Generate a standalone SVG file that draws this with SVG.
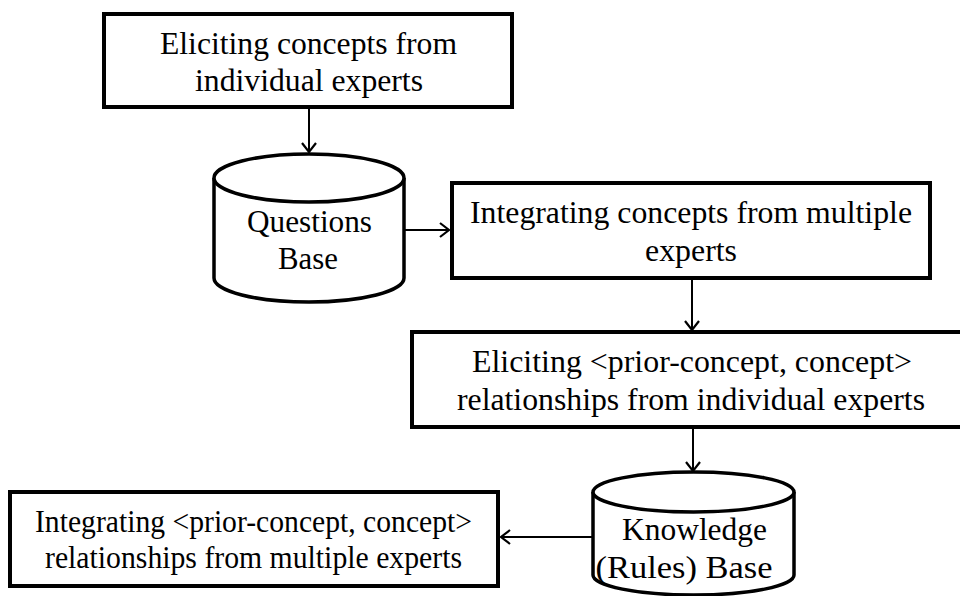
<svg xmlns="http://www.w3.org/2000/svg" width="960" height="596" viewBox="0 0 960 596">
<defs>
<style>
.box{fill:#fff;stroke:#000;stroke-width:4}
.cyl{fill:#fff;stroke:#000;stroke-width:3.5}
.t{font-family:"Liberation Serif","Times New Roman",serif;font-size:31px;fill:#000;text-anchor:middle}
.c{fill:none;stroke:#000;stroke-width:2}
</style>
<marker id="ah" markerUnits="userSpaceOnUse" markerWidth="16" markerHeight="18" refX="11" refY="8" orient="auto" viewBox="0 0 16 18">
<path d="M2,1 L11,8 L2,15" fill="none" stroke="#000" stroke-width="2.2"/>
</marker>
</defs>
<rect width="960" height="596" fill="#fff"/>
<g id="n1">
<rect class="box" x="104" y="14" width="408" height="93"/>
<text class="t" x="308.5" y="54" textLength="297" lengthAdjust="spacingAndGlyphs">Eliciting concepts from</text>
<text class="t" x="309" y="91" textLength="228" lengthAdjust="spacingAndGlyphs">individual experts</text>
</g>
<g id="n2">
<path class="cyl" d="M214,178 L214,278 A95,24 0 0 0 404,278 L404,178 A95,24 0 0 0 214,178 Z"/>
<path class="cyl" fill="none" d="M214,178 A95,24 0 0 0 404,178"/>
<text class="t" x="309.5" y="232" textLength="125" lengthAdjust="spacingAndGlyphs">Questions</text>
<text class="t" x="308" y="269" textLength="60" lengthAdjust="spacingAndGlyphs">Base</text>
</g>
<g id="n3">
<rect class="box" x="452" y="183" width="478" height="95"/>
<text class="t" x="691" y="223" textLength="442" lengthAdjust="spacingAndGlyphs">Integrating concepts from multiple</text>
<text class="t" x="691" y="261" textLength="92" lengthAdjust="spacingAndGlyphs">experts</text>
</g>
<g id="n4">
<rect class="box" x="412" y="332" width="570" height="95"/>
<text class="t" x="692" y="372" textLength="440" lengthAdjust="spacingAndGlyphs">Eliciting &lt;prior-concept, concept&gt;</text>
<text class="t" x="691" y="410" textLength="468" lengthAdjust="spacingAndGlyphs">relationships from individual experts</text>
</g>
<g id="n5">
<path class="cyl" d="M593,492 L593,575 A100.5,20 0 0 0 794,575 L794,492 A100.5,20 0 0 0 593,492 Z"/>
<path class="cyl" fill="none" d="M593,492 A100.5,20 0 0 0 794,492"/>
<text class="t" x="694.5" y="540" textLength="145" lengthAdjust="spacingAndGlyphs">Knowledge</text>
<text class="t" x="684" y="578" textLength="177" lengthAdjust="spacingAndGlyphs">(Rules) Base</text>
</g>
<g id="n6">
<rect class="box" x="10" y="492" width="488" height="94"/>
<text class="t" x="253.5" y="532" textLength="437" lengthAdjust="spacingAndGlyphs">Integrating &lt;prior-concept, concept&gt;</text>
<text class="t" x="253.5" y="568" textLength="417" lengthAdjust="spacingAndGlyphs">relationships from multiple experts</text>
</g>
<g id="connectors">
<line class="c" x1="309" y1="107" x2="309" y2="152" marker-end="url(#ah)"/>
<line class="c" x1="405" y1="230" x2="449" y2="230" marker-end="url(#ah)"/>
<line class="c" x1="692" y1="279" x2="692" y2="330" marker-end="url(#ah)"/>
<line class="c" x1="693" y1="428" x2="693" y2="471" marker-end="url(#ah)"/>
<line class="c" x1="592" y1="537" x2="501" y2="537" marker-end="url(#ah)"/>
</g>
</svg>
